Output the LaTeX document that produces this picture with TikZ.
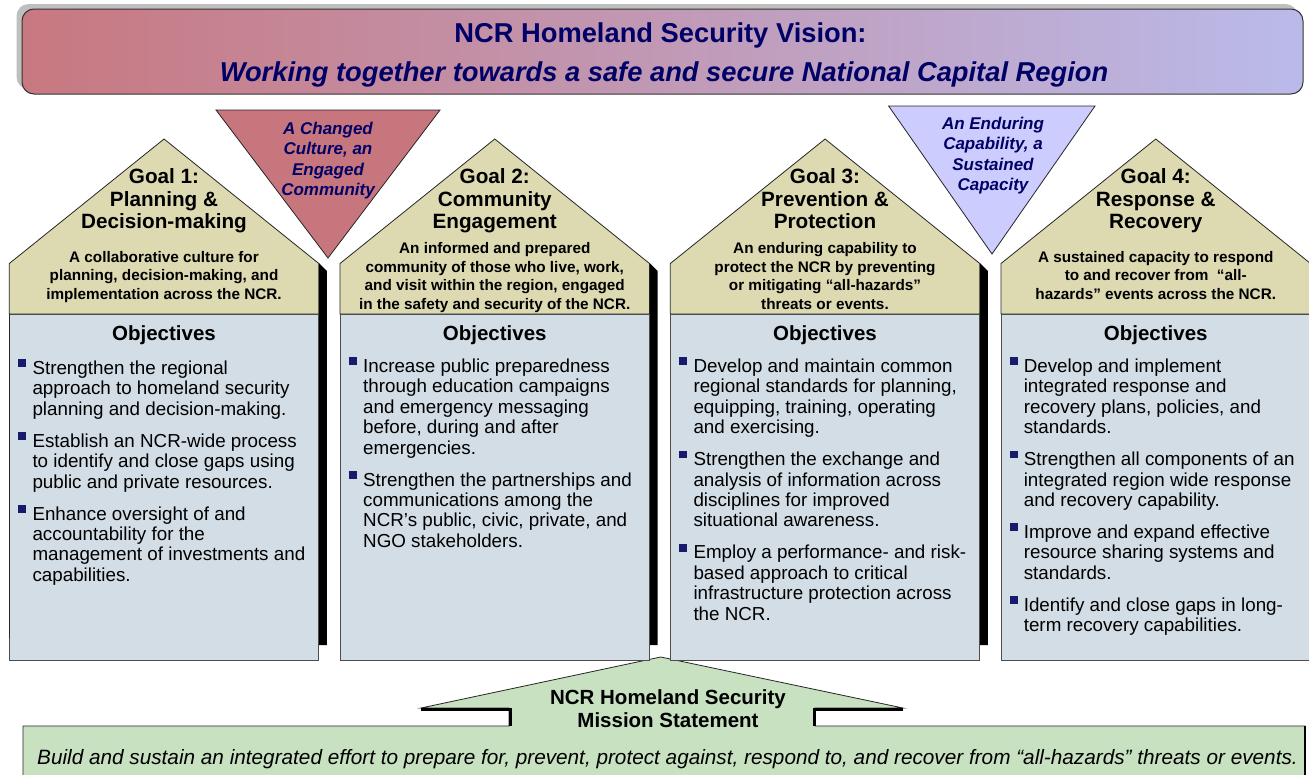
\documentclass[tikz,border=0pt]{standalone}
\usepackage{fontspec}
\setmainfont{Liberation Sans}
\setlength{\lineskiplimit}{-100pt}
\definecolor{navy}{RGB}{0,0,102}
\definecolor{rooftan}{RGB}{221,218,178}
\definecolor{objblue}{RGB}{210,221,229}
\definecolor{mgreen}{RGB}{199,225,193}
\definecolor{pinktri}{RGB}{200,118,126}
\definecolor{bluetri}{RGB}{204,204,255}
\definecolor{banL}{RGB}{200,120,128}
\definecolor{banR}{RGB}{186,186,234}
\definecolor{bulcol}{RGB}{25,25,110}
\newcommand{\mycenterlines}[1]{\vtop{\halign{\hfil##\hfil\cr#1\crcr}}}
\newcommand{\myleftlines}[1]{\vtop{\halign{##\hfil\cr#1\crcr}}}
\newcommand{\mybul}{\llap{\textcolor{bulcol}{\rule[7.3pt]{7.8pt}{7.8pt}}\hspace{6.3pt}}}
\newcommand{\objgap}{\noalign{\vskip11.6pt}}
\tikzset{
  lbl/.style={anchor=base, inner sep=0pt},
  titlefont/.style={lbl, text=navy, font=\fontsize{27.3}{32}\selectfont\bfseries},
  trifont/.style={lbl, text=navy, font=\fontsize{17}{20.5}\selectfont\bfseries\itshape},
  goalfont/.style={lbl, font=\fontsize{20.7}{22.5}\selectfont\bfseries},
  descfont/.style={lbl, font=\fontsize{15.3}{18.5}\selectfont\bfseries},
  objhead/.style={lbl, font=\fontsize{20.5}{24}\selectfont\bfseries},
  objtext/.style={anchor=base west, inner sep=0pt, font=\fontsize{18.8}{20.4}\selectfont},
  outline/.style={draw=black!85, line width=0.8pt},
}
\begin{document}
\begin{tikzpicture}[x=1pt, y=-1pt]
\useasboundingbox (0,0) rectangle (1309,774);
\fill[white] (0,0) rectangle (1309,774);

% banner
\fill[gray!50, rounded corners=12pt] (16.5,4) rectangle (1297.5,89);
\shade[left color=banL, right color=banR, rounded corners=12pt] (22,9) rectangle (1303,94);
\draw[black!80, line width=1pt, rounded corners=12pt] (22,9) rectangle (1303,94);
\node[titlefont] (title1) at (660.5,42) {NCR Homeland Security Vision:};
\node[titlefont, font=\fontsize{27.3}{32}\selectfont\bfseries\itshape] (title2) at (664,81) {Working together towards a safe and secure National Capital Region};

% mission statement callout (behind boxes)
\filldraw[fill=mgreen, outline] (509,726) -- (509,708) -- (421,708) -- (660.7,657) -- (903,708) -- (815,708) -- (815,726) -- (1305,726) -- (1305,790) -- (23,790) -- (23,726) -- cycle;
\draw[black, line width=3pt] (421,709.5) -- (510,709.5) -- (510,726);
\draw[black, line width=3pt] (903,709.5) -- (814,709.5) -- (814,726);
\draw[black, line width=2.5pt] (1305,726) -- (1305,790);

% houses
\foreach \L in {9.3, 340, 670.3, 1001} {
  \pgfmathsetmacro\R{\L+309.5}
  \pgfmathsetmacro\M{\L+154.75}
  \fill[black] (\R,263) -- (\R+8,271) -- (\R+8,645) -- (\R,645) -- cycle;
  \filldraw[fill=rooftan, outline] (\L,314) -- (\L,263.5) -- (\M,139) -- (\R,263.5) -- (\R,314) -- cycle;
  \filldraw[fill=objblue, draw=black!70, line width=0.8pt] (\L,314) rectangle (\R,660);
}
\draw[black!85, line width=1.6pt] (9.3,314) -- (9.3,638);

% triangles
\filldraw[fill=pinktri, outline] (216,110) -- (440,110) -- (328,258) -- cycle;
\filldraw[fill=bluetri, outline] (888.6,106) -- (1095,106) -- (992,254) -- cycle;
\node[trifont] (tri1) at (328,134) {\mycenterlines{A Changed\cr Culture, an\cr Engaged\cr Community}};
\node[trifont] (tri2) at (993,129) {\mycenterlines{An Enduring\cr Capability, a\cr Sustained\cr Capacity}};

% goal titles
\node[goalfont] (g1) at (164,183.5) {\mycenterlines{Goal 1:\cr Planning \&\cr Decision-making}};
\node[goalfont] (g2) at (494.75,183.5) {\mycenterlines{Goal 2:\cr Community\cr Engagement}};
\node[goalfont] (g3) at (825,183.5) {\mycenterlines{Goal 3:\cr Prevention \&\cr Protection}};
\node[goalfont] (g4) at (1155.75,183.5) {\mycenterlines{Goal 4:\cr Response \&\cr Recovery}};

% goal descriptions
\node[descfont] (d1) at (164,262) {\mycenterlines{A collaborative culture for\cr planning, decision-making, and\cr implementation across the NCR.}};
\node[descfont] (d2) at (494.75,253.8) {\mycenterlines{An informed and prepared\cr community of those who live, work,\cr and visit within the region, engaged\cr in the safety and security of the NCR.}};
\node[descfont] (d3) at (825,253.8) {\mycenterlines{An enduring capability to\cr protect the NCR by preventing\cr or mitigating “all-hazards”\cr threats or events.}};
\node[descfont] (d4) at (1155.75,262) {\mycenterlines{A sustained capacity to respond\cr to and recover from \ “all-\cr hazards” events across the NCR.}};

% objectives headings
\node[objhead] (o1) at (164,340.5) {Objectives};
\node[objhead] (o2) at (494.75,340.5) {Objectives};
\node[objhead] (o3) at (825,340.5) {Objectives};
\node[objhead] (o4) at (1155.75,340.5) {Objectives};

% objectives text
\node[objtext] (b1) at (32.3,374.5) {\myleftlines{\mybul Strengthen the regional\cr
approach to homeland security\cr
planning and decision-making.\cr\objgap
\mybul Establish an NCR-wide process\cr
to identify and close gaps using\cr
public and private resources.\cr\objgap
\mybul Enhance oversight of and\cr
accountability for the\cr
management of investments and\cr
capabilities.}};

\node[objtext] (b2) at (363,372.5) {\myleftlines{\mybul Increase public preparedness\cr
through education campaigns\cr
and emergency messaging\cr
before, during and after\cr
emergencies.\cr\objgap
\mybul Strengthen the partnerships and\cr
communications among the\cr
NCR’s public, civic, private, and\cr
NGO stakeholders.}};

\node[objtext] (b3) at (693.3,372.5) {\myleftlines{\mybul Develop and maintain common\cr
regional standards for planning,\cr
equipping, training, operating\cr
and exercising.\cr\objgap
\mybul Strengthen the exchange and\cr
analysis of information across\cr
disciplines for improved\cr
situational awareness.\cr\objgap
\mybul Employ a performance- and risk-\cr
based approach to critical\cr
infrastructure protection across\cr
the NCR.}};

\node[objtext] (b4) at (1023.6,372.5) {\myleftlines{\mybul Develop and implement\cr
integrated response and\cr
recovery plans, policies, and\cr
standards.\cr\objgap
\mybul Strengthen all components of an\cr
integrated region wide response\cr
and recovery capability.\cr\objgap
\mybul Improve and expand effective\cr
resource sharing systems and\cr
standards.\cr\objgap
\mybul Identify and close gaps in long-\cr
term recovery capabilities.}};

% mission texts
\node[lbl, font=\fontsize{20.5}{22.7}\selectfont\bfseries] (mtitle) at (668,704.6) {\mycenterlines{NCR Homeland Security\cr Mission Statement}};
\node[lbl, font=\fontsize{20.75}{24}\selectfont\itshape] (mbody) at (667.5,764) {Build and sustain an integrated effort to prepare for, prevent, protect against, respond to, and recover from “all-hazards” threats or events.};
\end{tikzpicture}
\end{document}
